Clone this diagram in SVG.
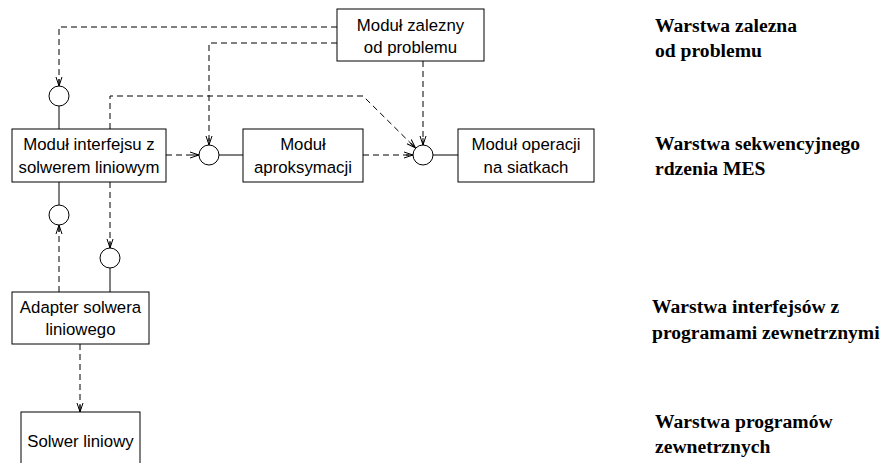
<svg xmlns="http://www.w3.org/2000/svg" width="888" height="463" viewBox="0 0 888 463">
<style>
.box{fill:#fff;stroke:#000;stroke-width:1}
.t{font-family:"Liberation Sans",Arial,sans-serif;font-size:16.8px;text-anchor:middle;fill:#000}
.l{font-family:"Liberation Serif","Times New Roman",serif;font-size:19.6px;font-weight:bold;fill:#000}
.d{fill:none;stroke:#000;stroke-width:1;stroke-dasharray:6,4;marker-end:url(#a)}
.s{fill:none;stroke:#000;stroke-width:1}
.c{fill:#fff;stroke:#000;stroke-width:1}
</style>
<defs>
<marker id="a" viewBox="0 0 10 8" refX="9" refY="4" markerWidth="10" markerHeight="8" markerUnits="userSpaceOnUse" orient="auto">
<path d="M0,1 L9,4 L0,7 M2,4 L9,4" fill="none" stroke="#000" stroke-width="1"/>
</marker>
</defs>
<rect width="888" height="463" fill="#fff"/>
<g id="connectors">
<path class="d" d="M337,27 H59 V86"/>
<path class="d" d="M337,43 H209 V145"/>
<path class="d" d="M423,61 V145"/>
<path class="d" d="M110,129 V96 H363 L415.5,148"/>
<path class="d" d="M110,182 V248"/>
<path class="d" d="M166,155 H199"/>
<path class="d" d="M363,155 H413"/>
<path class="d" d="M59,292 V225"/>
<path class="d" d="M80,344 V412"/>
<path class="s" d="M59,106 V129"/>
<path class="s" d="M219,155 H243"/>
<path class="s" d="M433,155 H458"/>
<path class="s" d="M59,205 V182"/>
<path class="s" d="M110,268 V292"/>
</g>
<g id="iface1"><circle class="c" cx="59" cy="96" r="10"/></g>
<g id="iface2"><circle class="c" cx="209" cy="155" r="10"/></g>
<g id="iface3"><circle class="c" cx="423" cy="155" r="10"/></g>
<g id="iface4"><circle class="c" cx="59" cy="215" r="10"/></g>
<g id="iface5"><circle class="c" cx="110" cy="258" r="10"/></g>
<g id="modul-zalezny">
<rect class="box" x="337" y="9" width="147" height="52"/>
<text class="t" x="410.5" y="31">Moduł zalezny</text>
<text class="t" x="410.5" y="53">od problemu</text>
</g>
<g id="modul-interfejsu">
<rect class="box" x="12" y="129" width="154" height="53"/>
<text class="t" x="89" y="150">Moduł interfejsu z</text>
<text class="t" x="89" y="173">solwerem liniowym</text>
</g>
<g id="modul-aproksymacji">
<rect class="box" x="243" y="129" width="120" height="53"/>
<text class="t" x="303" y="150">Moduł</text>
<text class="t" x="303" y="173">aproksymacji</text>
</g>
<g id="modul-operacji">
<rect class="box" x="458" y="129" width="136" height="53"/>
<text class="t" x="526" y="150">Moduł operacji</text>
<text class="t" x="526" y="173">na siatkach</text>
</g>
<g id="adapter">
<rect class="box" x="12" y="292" width="137" height="52"/>
<text class="t" x="80.5" y="313">Adapter solwera</text>
<text class="t" x="80.5" y="335">liniowego</text>
</g>
<g id="solwer">
<rect class="box" x="21" y="412" width="119" height="60"/>
<text class="t" x="80.5" y="447">Solwer liniowy</text>
</g>
<g id="layers">
<text class="l" x="655" y="32">Warstwa zalezna</text>
<text class="l" x="655" y="57">od problemu</text>
<text class="l" x="655" y="150">Warstwa sekwencyjnego</text>
<text class="l" x="655" y="175">rdzenia MES</text>
<text class="l" x="652" y="313">Warstwa interfejsów z</text>
<text class="l" x="652" y="339">programami zewnetrznymi</text>
<text class="l" x="655" y="428">Warstwa programów</text>
<text class="l" x="655" y="453">zewnetrznych</text>
</g>
</svg>
